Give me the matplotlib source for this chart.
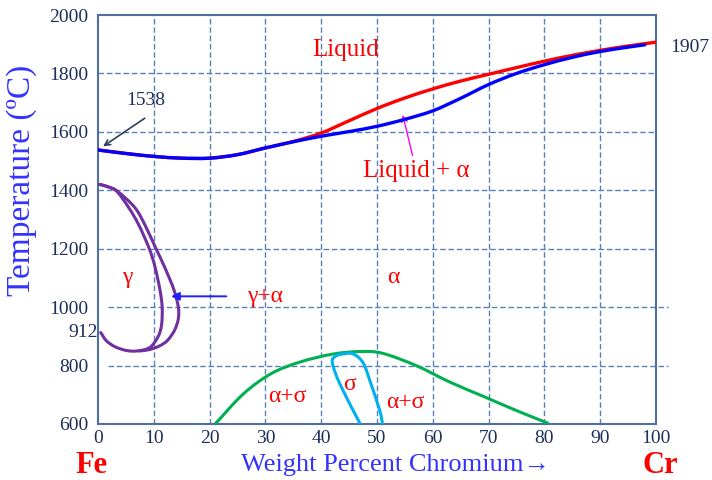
"""Fe-Cr phase diagram sketch."""

import matplotlib
matplotlib.use("Agg")
import matplotlib.pyplot as plt
import numpy as np
from matplotlib.path import Path
from matplotlib.patches import PathPatch

plt.rcParams["font.family"] = ["Liberation Serif", "DejaVu Serif"]

# liquidus / solidus (wt% Cr, deg C)
liq_x = [0, 5, 10, 15, 20, 25, 30, 35, 40, 45, 50, 55, 60, 65, 70, 75, 80, 85, 90, 95, 100]
liq_t = [1538, 1526, 1516, 1510, 1510, 1522, 1545, 1567, 1596, 1638, 1680, 1716, 1747,
         1774, 1797, 1820, 1842, 1862, 1879, 1894, 1907]
sol_x = [0, 5, 10, 15, 20, 25, 30, 35, 40, 45, 50, 55, 60, 65, 70, 75, 80, 85, 90, 95, 98]
sol_t = [1538, 1526, 1516, 1510, 1510, 1522, 1545, 1566, 1585, 1601, 1619, 1643, 1672,
         1715, 1762, 1800, 1830, 1855, 1875, 1890, 1898]

# gamma loop
gin_x = [0.3, 1.8, 3.4, 5.5, 7.3, 9.2, 10.2, 11.1, 11.5, 11.4, 10.8, 9.3, 7, 5, 3, 1.5, 0.5]
gin_t = [1420, 1412, 1396, 1341, 1282, 1200, 1139, 1060, 1000, 940, 900, 862, 850, 852,
         865, 885, 913]
gout_x = [0.3, 1.8, 3.6, 6.6, 8.4, 10.4, 11.9, 13.6, 14.4, 14.4, 13.7, 12.4, 11, 9.3, 7.5]
gout_t = [1420, 1412, 1395, 1341, 1282, 1200, 1139, 1060, 1000, 960, 920, 885, 867, 855, 850]

# sigma solvus and sigma field
sv_x = [21, 26, 31, 36.2, 42, 47, 51, 57, 63, 69, 75, 80.6]
sv_t = [600, 702, 772, 812, 839, 848, 842, 800, 744, 695, 646, 603]
sg_x = [47, 43.4, 42, 42.6, 44, 45.7, 47.5, 48.8, 50.5, 51]
sg_t = [600, 735, 810, 832, 840, 840, 810, 744, 646, 600]

x_ticks = [0, 10, 20, 30, 40, 50, 60, 70, 80, 90, 100]
y_ticks = [600, 800, 1000, 1200, 1400, 1600, 1800, 2000]


def smooth(xs, ys):
    # Catmull-Rom through the read points, drawn as cubic Bezier segments
    p = np.column_stack([xs, ys]).astype(float)
    e = np.vstack([2 * p[0] - p[1], p, 2 * p[-1] - p[-2]])
    verts, codes = [p[0]], [Path.MOVETO]
    for i in range(1, len(e) - 2):
        p0, p1, p2, p3 = e[i - 1], e[i], e[i + 1], e[i + 2]
        verts += [p1 + (p2 - p0) / 6, p2 - (p3 - p1) / 6, p2]
        codes += [Path.CURVE4] * 3
    return Path(verts, codes)


fig = plt.figure(figsize=(7.12, 4.8), dpi=100)
ax = fig.add_axes([0.1376, 0.1167, 0.7837, 0.852])
ax.set_xlim(0, 100)
ax.set_ylim(600, 2000)

grid_c = "#5b82b8"
for xt in x_ticks[1:-1]:
    ax.axvline(xt, color=grid_c, ls=(0, (4, 2)), lw=1, zorder=1)
for yt in y_ticks[1:-1]:
    if yt in (800, 1000):
        ax.axhline(yt, xmin=0.018, xmax=1.022, color=grid_c, ls=(0, (4, 2)), lw=1,
                   zorder=1, clip_on=False)
    else:
        ax.axhline(yt, color=grid_c, ls=(0, (4, 2)), lw=1, zorder=1)

curves = [
    (liq_x, liq_t, "#ff0000", 2.4, 3),
    (sol_x, sol_t, "#0000ff", 2.4, 4),
    (gin_x, gin_t, "#7030a0", 2.2, 3),
    (gout_x, gout_t, "#7030a0", 2.2, 3),
    (sv_x, sv_t, "#00b050", 2.2, 3),
    (sg_x, sg_t, "#00b0f0", 2.2, 3),
]
for xs, ts, c, lw, z in curves:
    ax.add_patch(PathPatch(smooth(xs, ts), fill=False, edgecolor=c, lw=lw,
                           capstyle="round", zorder=z))

ax.set_xticks(x_ticks)
ax.set_yticks(y_ticks)
ax.tick_params(length=0, labelsize=14, labelcolor="#1f2f5a")
ax.tick_params(axis="y", pad=7)
ax.tick_params(axis="x", pad=4)
for s in ax.spines.values():
    s.set_color("#4f6f9f")
    s.set_linewidth(1.5)

red = "#ff0000"
ax.text(44.4, 1880, "Liquid", color=red, fontsize=18, ha="center", va="center")
ax.text(57, 1467, "Liquid + \u03b1", color=red, fontsize=18, ha="center", va="center")
ax.annotate("", xy=(54.5, 1667), xytext=(56.5, 1510),
            arrowprops=dict(arrowstyle="->", color="#ff00ff", lw=1))
ax.text(52.9, 1103, "\u03b1", color=red, fontsize=17, ha="center", va="center")
ax.text(5.2, 1100, "\u03b3", color=red, fontsize=17, ha="center", va="center")
ax.text(30, 1037, "\u03b3+\u03b1", color=red, fontsize=17, ha="center", va="center")
ax.annotate("", xy=(12.6, 1037), xytext=(23.5, 1037),
            arrowprops=dict(arrowstyle="-|>", color="#2020ff", lw=1.4, mutation_scale=12))
ax.text(45, 735, "\u03c3", color=red, fontsize=17, ha="center", va="center")
ax.text(34, 695, "\u03b1+\u03c3", color=red, fontsize=17, ha="center", va="center")
ax.text(55, 672, "\u03b1+\u03c3", color=red, fontsize=17, ha="center", va="center")

ax.text(8.6, 1706, "1538", color="#1f2f5a", fontsize=14, ha="center", va="center")
ax.annotate("", xy=(0.5, 1545), xytext=(8.8, 1652),
            arrowprops=dict(arrowstyle="->", color="#2f3f5f", lw=1.2))
ax.text(102.5, 1890, "1907", color="#1f2f5a", fontsize=14, ha="left", va="center",
        clip_on=False)
ax.text(0, 912, "912", color="#1f2f5a", fontsize=14, ha="right", va="center",
        clip_on=False)

fig.text(0.031, 0.625, "Temperature (\u00baC)", color="#3333ff", fontsize=24,
         rotation=90, ha="center", va="center")
fig.text(0.555, 0.031, "Weight Percent Chromium\u2192", color="#3333ff", fontsize=19,
         ha="center", va="center")
fig.text(0.128, 0.031, "Fe", color=red, fontsize=22, fontweight="bold",
         ha="center", va="center")
fig.text(0.927, 0.031, "Cr", color=red, fontsize=22, fontweight="bold",
         ha="center", va="center")

fig.savefig("out.png", dpi=100)
